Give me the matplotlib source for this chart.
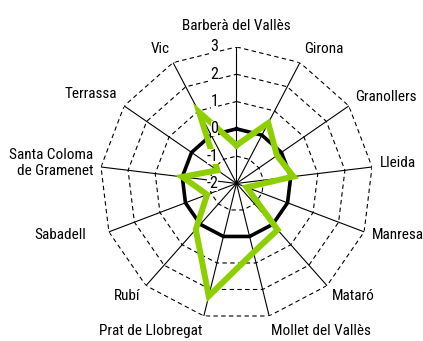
import numpy as np
import matplotlib
matplotlib.use("Agg")
import matplotlib.pyplot as plt

plt.rcParams["font.family"] = ["Roboto Condensed", "Liberation Sans Narrow",
                               "DejaVu Sans Condensed", "Open Sans Condensed",
                               "DejaVu Sans"]
plt.rcParams["font.stretch"] = "condensed"

cities = ["Barberà del Vallès", "Girona", "Granollers", "Lleida", "Manresa",
          "Mataró", "Mollet del Vallès", "Prat de Llobregat", "Rubí",
          "Sabadell", "Santa Coloma\nde Gramenet", "Terrassa", "Vic"]
values = [-0.6, 0.5, -0.2, 0.1, -1.6, 0.27, 0.6, 2.25, 0.25, -0.85, 0.0, -1.15, 0.95]
ref_line = [0] * len(cities)
r_ticks = [-2, -1, 0, 1, 2, 3]

GREEN = "#8dcf00"
FS = 11

n = len(cities)
theta = np.arange(n) * 2 * np.pi / n
closed = np.append(theta, theta[0])

fig = plt.figure(figsize=(4.23, 3.41), dpi=100)
ax = fig.add_axes([0.2364, 0.0617, 0.6454, 0.8006], projection="polar")
ax.set_theta_zero_location("N")
ax.set_theta_direction(-1)
ax.set_ylim(r_ticks[0], r_ticks[-1])
ax.spines["polar"].set_visible(False)
ax.set_yticks([])
ax.set_xticks(theta)
ax.set_xticklabels([])
ax.xaxis.grid(True, color="black", lw=0.8, ls="-")
ax.yaxis.grid(False)

# polygon grid rings
for r in r_ticks[1:]:
    if r == 0:
        continue
    ax.plot(closed, [r] * (n + 1), color="black", lw=0.8, ls=(0, (4, 3)), zorder=1)

ax.plot(closed, ref_line + ref_line[:1], color="black", lw=2.6, zorder=3)
ax.plot(closed, values + values[:1], color=GREEN, lw=4.3,
        solid_joinstyle="miter", zorder=4)

# radial tick labels
for r in r_ticks:
    ax.annotate(str(r), xy=(0, r), xytext=(-18, 0), textcoords="offset pixels",
                ha="right", va="center", fontsize=FS + 0.5, zorder=5,
                bbox=dict(boxstyle="square,pad=0", fc="white", ec="none"))

# category labels
nudge = {"Sabadell": (-15, 0), "Barberà del Vallès": (0, 6),
         "Granollers": (0, -3), "Mataró": (0, 3), "Rubí": (0, 3)}
pad = 8
for t, name in zip(theta, cities):
    s, c = np.sin(t), np.cos(t)
    dx, dy = s * pad, c * pad
    ha = "left" if s > 0.05 else ("right" if s < -0.05 else "center")
    if abs(c) < 0.2:
        va = "center"
        dy += 3
    elif abs(c) < 0.5:
        va = "center"
    else:
        va = "bottom" if c > 0 else "top"
    ex, ey = nudge.get(name, (0, 0))
    ax.annotate(name, xy=(t, r_ticks[-1]), xytext=(dx + ex, dy + ey),
                textcoords="offset pixels", ha=ha, va=va, fontsize=FS,
                multialignment="right" if ha == "right" else "left",
                annotation_clip=False)

fig.savefig("out.png", dpi=100)
